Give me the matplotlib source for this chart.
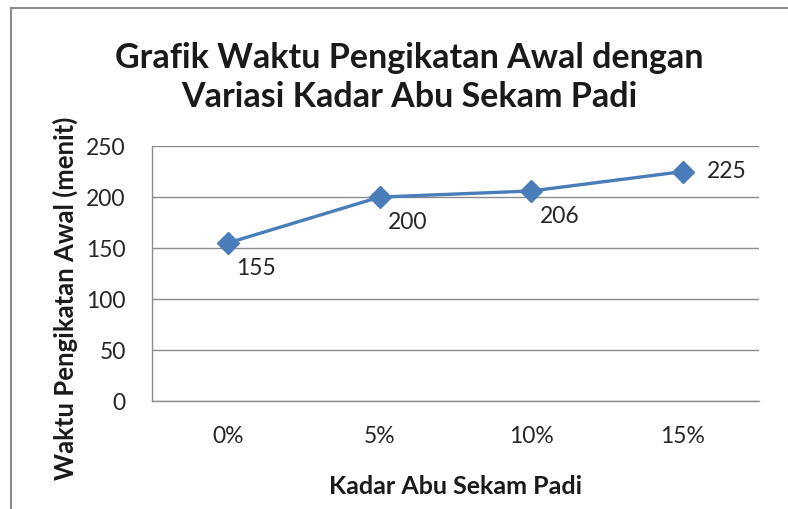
import matplotlib
matplotlib.use("Agg")
import matplotlib.pyplot as plt
from matplotlib.lines import Line2D

kadar = ["0%", "5%", "10%", "15%"]
waktu = [155, 200, 206, 225]
y_ticks = [0, 50, 100, 150, 200, 250]

plt.rcParams['font.family'] = ['Lato', 'DejaVu Sans']

fig = plt.figure(figsize=(7.88, 5.09), dpi=100)
ax = fig.add_axes([0.193, 0.212, 0.770, 0.501])

x = list(range(len(kadar)))
ax.plot(x, waktu, color="#4A7EBB", lw=2.4, marker="D", ms=11,
        markerfacecolor="#4A7EBB", markeredgecolor="#4A7EBB", zorder=3)

# data labels, 225 sits to the right, the rest below-right
for i, v in enumerate(waktu):
    if i == len(waktu) - 1:
        ax.annotate(str(v), (i, v), xytext=(17, 0), textcoords="offset points",
                    ha="left", va="center", fontsize=16.5, color="#262626")
    else:
        ax.annotate(str(v), (i, v), xytext=(6, -11), textcoords="offset points",
                    ha="left", va="top", fontsize=16.5, color="#262626")

ax.set_xlim(-0.5, len(kadar) - 0.5)
ax.set_ylim(0, 250)
ax.set_xticks(x)
ax.set_xticklabels(kadar)
ax.set_yticks(y_ticks)
ax.tick_params(axis="both", length=0, labelsize=16.5, labelcolor="#262626")
ax.tick_params(axis="x", pad=18)
ax.tick_params(axis="y", pad=19)
ax.grid(axis="y", color="#8c8c8c", lw=1)
ax.set_axisbelow(True)
for s in ["top", "right"]:
    ax.spines[s].set_visible(False)
for s in ["left", "bottom"]:
    ax.spines[s].set_color("#8c8c8c")
    ax.spines[s].set_linewidth(1)

ax.set_xlabel("Kadar Abu Sekam Padi", fontsize=18, fontweight="bold",
              color="#1a1a1a")
ax.xaxis.set_label_coords(0.5, -0.29)
ax.set_ylabel("Waktu Pengikatan Awal (menit)", fontsize=18.5, fontweight="bold",
              color="#1a1a1a", va="center")
ax.yaxis.set_label_coords(-0.143, 0.404)

fig.text(0.519, 0.886, "Grafik Waktu Pengikatan Awal dengan", ha="center",
         va="center", fontsize=24.5, fontweight="bold", color="#1a1a1a")
fig.text(0.519, 0.809, "Variasi Kadar Abu Sekam Padi", ha="center",
         va="center", fontsize=24.5, fontweight="bold", color="#1a1a1a")

# outer chart frame (only top and left edges are visible in the crop)
fig.add_artist(Line2D([0.014, 0.014], [0, 0.984], transform=fig.transFigure,
                      color="#8c8c8c", lw=1.5))
fig.add_artist(Line2D([0.014, 1], [0.984, 0.984], transform=fig.transFigure,
                      color="#8c8c8c", lw=1.5))

fig.savefig("out.png", dpi=100)
